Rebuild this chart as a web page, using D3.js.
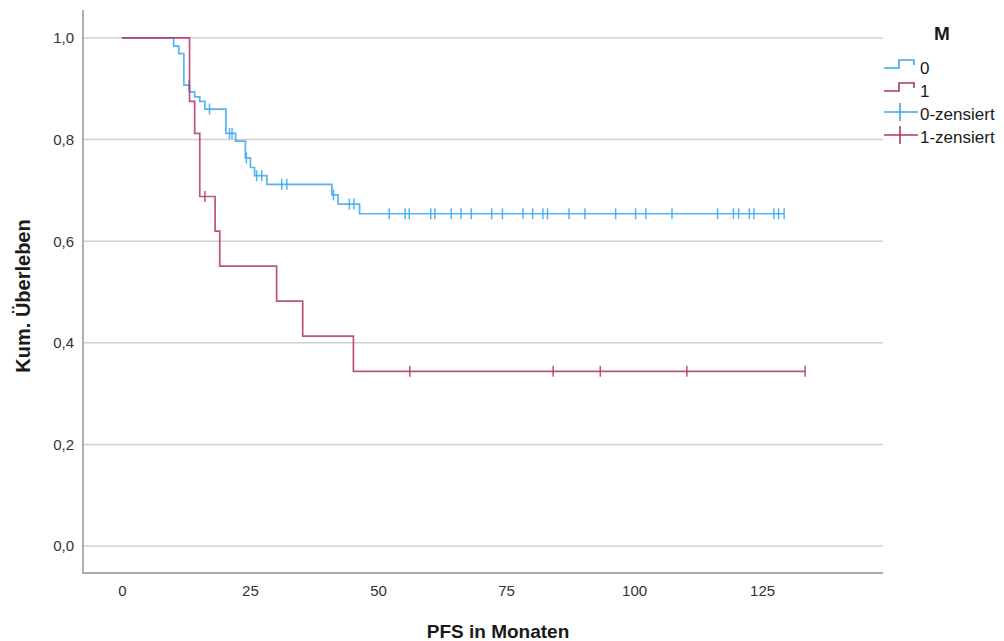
<!DOCTYPE html>
<html>
<head>
<meta charset="utf-8">
<script src="https://cdn.jsdelivr.net/npm/d3@7"></script>
<style>
  body { margin: 0; background: #fff; }
  svg { font-family: "Liberation Sans", Arial, sans-serif; }
</style>
</head>
<body>
<svg width="1004" height="641"></svg>
<script>
// group M = 0 : step times (months) and cumulative survival
const times0 = [0, 10.1, 11.1, 12.1, 13.2, 14.2, 15.2, 16.2, 20.3, 22.2, 24.1, 25.1, 25.9, 28.3, 41.0, 42.2, 46.4];
const surv0 = [1, 0.984, 0.969, 0.907, 0.894, 0.884, 0.875, 0.860, 0.812, 0.797, 0.764, 0.745, 0.729, 0.712, 0.691, 0.673, 0.654];
const cens0 = [13.1, 17.1, 21.0, 21.5, 24.3, 26.3, 27.3, 31.2, 32.2, 41.3, 44.4, 45.3, 52.2, 55.3, 56.1, 60.3, 61.1,
  64.3, 66.2, 68.2, 72.2, 74.3, 78.3, 80.2, 82.2, 83.1, 87.3, 90.4, 96.4, 100.3, 102.3, 107.4, 116.3, 119.4,
  120.4, 122.5, 123.4, 127.3, 128.2, 129.3];

// group M = 1
const times1 = [0, 13.2, 14.2, 15.2, 18.2, 19.1, 30.2, 35.3, 45.2];
const surv1 = [1, 0.875, 0.812, 0.688, 0.620, 0.551, 0.482, 0.413, 0.344];
const cens1 = [16.2, 56.2, 84.2, 93.4, 110.3, 133.4];

const xTicks = [0, 25, 50, 75, 100, 125];
const yTicks = [0, 0.2, 0.4, 0.6, 0.8, 1.0];
const legendLabels = ["0", "1", "0-zensiert", "1-zensiert"];

const blue = "#3ba6f2", red = "#b3346a";

let svg = d3.select("svg");

let x = d3.scaleLinear().domain([-7.6, 148.6]).range([83, 883]);
let y = d3.scaleLinear().domain([-0.053, 1.055]).range([573, 10]);

// gridlines
svg.append("g")
    .selectAll("line")
    .data(yTicks)
    .enter().append("line")
    .attr("x1", x.range()[0]).attr("x2", x.range()[1])
    .attr("y1", d => y(d)).attr("y2", d => y(d))
    .attr("stroke", "#cfcfcf")
    .attr("stroke-width", 1.6);

// axes
let yAxis = svg.append("g")
    .attr("transform", "translate(83,0)")
    .call(d3.axisLeft(y).tickValues(yTicks).tickSize(0).tickPadding(9)
        .tickFormat(d => d.toFixed(1).replace(".", ",")));
yAxis.select(".domain").remove();

let xAxis = svg.append("g")
    .attr("transform", "translate(0,573)")
    .call(d3.axisBottom(x).tickValues(xTicks).tickSize(0).tickPadding(12));
xAxis.select(".domain").remove();

svg.selectAll(".tick text")
    .attr("font-family", "Liberation Sans, Arial, sans-serif")
    .attr("font-size", 15)
    .attr("fill", "#333");

// frame
svg.append("path")
    .attr("d", "M83," + y.range()[1] + "V573H883")
    .attr("fill", "none")
    .attr("stroke", "#8f8f8f")
    .attr("stroke-width", 1.4);

// curves
let line = d3.line()
    .x(d => x(d[0]))
    .y(d => y(d[1]))
    .curve(d3.curveStepAfter);

function stepAt(times, surv, t) {
    return surv[d3.bisectRight(times, t) - 1];
}

function drawGroup(times, surv, cens, color) {
    let pts = times.map((t, i) => [t, surv[i]]);
    pts.push([d3.max(cens), surv[surv.length - 1]]);
    let g = svg.append("g").attr("stroke", color).attr("stroke-opacity", 0.85);
    g.append("path")
        .attr("d", line(pts))
        .attr("fill", "none")
        .attr("stroke-width", 1.7);
    g.selectAll("line")
        .data(cens)
        .enter().append("line")
        .attr("x1", d => x(d)).attr("x2", d => x(d))
        .attr("y1", d => y(stepAt(times, surv, d)) - 5.5)
        .attr("y2", d => y(stepAt(times, surv, d)) + 5.5)
        .attr("stroke-width", 1.5);
}

drawGroup(times0, surv0, cens0, blue);
drawGroup(times1, surv1, cens1, red);

// axis titles
svg.append("text")
    .attr("x", 498).attr("y", 638)
    .attr("text-anchor", "middle")
    .attr("font-size", 19).attr("font-weight", "bold")
    .attr("fill", "#1a1a1a")
    .text("PFS in Monaten");

svg.append("text")
    .attr("transform", "translate(30,296) rotate(-90)")
    .attr("text-anchor", "middle")
    .attr("font-size", 20).attr("font-weight", "bold")
    .attr("fill", "#1a1a1a")
    .text("Kum. Überleben");

// legend
let legend = svg.append("g");
legend.append("text")
    .attr("x", 942).attr("y", 40)
    .attr("text-anchor", "middle")
    .attr("font-size", 19).attr("font-weight", "bold")
    .attr("fill", "#1a1a1a")
    .text("M");

let legColors = [blue, red, blue, red];
legendLabels.forEach((lab, i) => {
    let base = 74 + i * 23;
    let c = legColors[i];
    if (i < 2) {
        let lo = base - 6, hi = base - 14;
        legend.append("path")
            .attr("d", "M884," + lo + "H899V" + hi + "H914V" + (hi + 5))
            .attr("fill", "none").attr("stroke", c).attr("stroke-width", 1.6);
    } else {
        let cy = base - 8;
        legend.append("path")
            .attr("d", "M884," + cy + "H918M900," + (cy - 9) + "V" + (cy + 9))
            .attr("fill", "none").attr("stroke", c).attr("stroke-width", 1.6);
    }
    legend.append("text")
        .attr("x", 920).attr("y", base)
        .attr("font-size", 17)
        .attr("fill", "#1a1a1a")
        .text(lab);
});
</script>
</body>
</html>
